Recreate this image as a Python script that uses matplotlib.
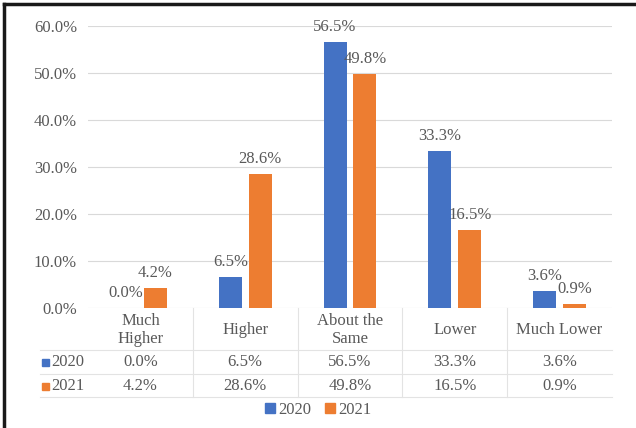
import numpy as np
import matplotlib.pyplot as plt
from matplotlib.lines import Line2D
from matplotlib.patches import Rectangle

categories = ['Much\nHigher', 'Higher', 'About the\nSame', 'Lower', 'Much Lower']
series_names = ['2020', '2021']
vals_2020 = [0.0, 6.5, 56.5, 33.3, 3.6]
vals_2021 = [4.2, 28.6, 49.8, 16.5, 0.9]
colors = ['#4472C4', '#ED7D31']

plt.rcParams['font.family'] = ['Liberation Serif', 'DejaVu Serif']
txt = '#595959'
fs = 12

fig = plt.figure(figsize=(6.36, 4.28), dpi=100)
ax = fig.add_axes([88 / 636, 1 - 308 / 428, 524 / 636, 282 / 428])

x = np.arange(len(categories))
w = 0.22
gap = 0.065
off = w / 2 + gap / 2
for vals, c, dx in [(vals_2020, colors[0], -off), (vals_2021, colors[1], off)]:
    bars = ax.bar(x + dx, vals, width=w, color=c, zorder=3)
    for b, v in zip(bars, vals):
        ax.annotate(f'{v:.1f}%', (b.get_x() + b.get_width() / 2, v),
                    xytext=(0, 15), textcoords='offset pixels',
                    ha='center', va='center', fontsize=fs, color=txt)

ax.set_xlim(-0.5, len(categories) - 0.5)
ax.set_ylim(0, 60)
ax.set_yticks(np.arange(0, 61, 10))
ax.set_yticklabels([f'{t:.1f}%' for t in np.arange(0, 61, 10)], fontsize=fs, color=txt)
ax.tick_params(axis='y', length=0, pad=8)
ax.tick_params(axis='x', length=0, labelbottom=False)
ax.grid(axis='y', color='#D9D9D9', linewidth=0.8, zorder=0)
for s in ax.spines.values():
    s.set_visible(False)

# data table under the axis
def fy(py):
    return 1 - py / 428

for i, cat in enumerate(categories):
    cx = ax.transData.transform((i, 0))[0] / 636
    fig.text(cx, fy(330), cat, ha='center', va='center', fontsize=fs, color=txt,
             linespacing=1.1)
    fig.text(cx, fy(362), f'{vals_2020[i]:.1f}%', ha='center', va='center',
             fontsize=fs, color=txt)
    fig.text(cx, fy(386), f'{vals_2021[i]:.1f}%', ha='center', va='center',
             fontsize=fs, color=txt)

for py, name, c in [(362, series_names[0], colors[0]), (386, series_names[1], colors[1])]:
    fig.add_artist(Rectangle((42 / 636, fy(py + 3.5)), 7 / 636, 7 / 428, color=c,
                             transform=fig.transFigure))
    fig.text(51 / 636, fy(py), name, ha='left', va='center', fontsize=fs, color=txt)

line_c = '#E3E3E3'
for py in [350, 374, 397]:
    fig.add_artist(Line2D([40 / 636, 612 / 636], [fy(py), fy(py)], color=line_c, lw=0.8))
for b in np.arange(0.5, len(categories) - 1, 1.0):
    px = ax.transData.transform((b, 0))[0] / 636
    fig.add_artist(Line2D([px, px], [fy(308), fy(397)], color=line_c, lw=0.8))

# legend
handles = [plt.Rectangle((0, 0), 1, 1, color=c) for c in colors]
fig.legend(handles, series_names, loc='center', bbox_to_anchor=(0.5, fy(410)),
           ncol=2, frameon=False, fontsize=fs, labelcolor=txt,
           handlelength=0.6, handleheight=0.6, handletextpad=0.2, columnspacing=0.8)

# black frame on left and top
fig.add_artist(Line2D([4 / 636, 4 / 636], [0, fy(4)], color='#1a1a1a', lw=2.5))
fig.add_artist(Line2D([4 / 636, 1], [fy(4), fy(4)], color='#1a1a1a', lw=2.5))

fig.savefig('out.png', dpi=100)
